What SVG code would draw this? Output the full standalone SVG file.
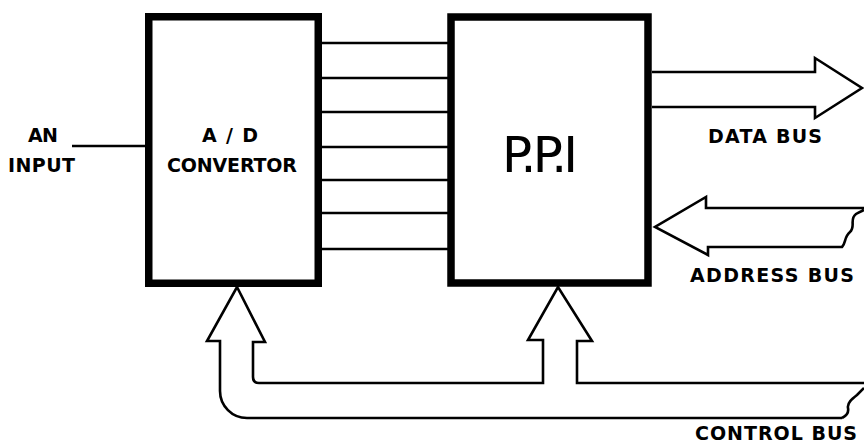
<svg xmlns="http://www.w3.org/2000/svg" width="864" height="445" viewBox="0 0 864 445">
<style>
.box{fill:none;stroke:#000;stroke-width:7.5;stroke-linejoin:miter}
.wire{fill:none;stroke:#000;stroke-width:2.5}
.bus{fill:none;stroke:#000;stroke-width:2.6;stroke-linejoin:miter}
.lbl{font-family:"DejaVu Sans","Liberation Sans",sans-serif;font-weight:bold;font-size:19px;fill:#000}
.big{font-family:"DejaVu Sans","Liberation Sans",sans-serif;font-size:50px;fill:#000}
</style>
<rect width="864" height="445" fill="#fff"/>
<g id="an-input">
<text class="lbl" x="28" y="142" textLength="30">AN</text>
<text class="lbl" x="8" y="172" textLength="67">INPUT</text>
</g>
<g id="ad-converter">
<rect class="box" x="148.75" y="16.75" width="169.5" height="266.5"/>
<text class="lbl" x="202" y="142" textLength="56">A / D</text>
<text class="lbl" x="167" y="172" textLength="130">CONVERTOR</text>
</g>
<g id="ppi">
<rect class="box" x="451" y="17" width="197" height="266"/>
<text class="big" x="502" y="172" textLength="76" lengthAdjust="spacing">P.P.I</text>
</g>
<g id="data-bus-label"><text class="lbl" x="708" y="143" textLength="114">DATA BUS</text></g>
<g id="address-bus-label"><text class="lbl" x="690" y="282" textLength="164">ADDRESS BUS</text></g>
<g id="control-bus-label"><text class="lbl" x="695" y="440" textLength="162">CONTROL BUS</text></g>
<g id="connectors">
<line class="wire" x1="72" y1="146" x2="146" y2="146"/>
<line class="wire" x1="322" y1="43" x2="448" y2="43"/>
<line class="wire" x1="322" y1="78" x2="448" y2="78"/>
<line class="wire" x1="322" y1="112" x2="448" y2="112"/>
<line class="wire" x1="322" y1="147" x2="448" y2="147"/>
<line class="wire" x1="322" y1="180" x2="448" y2="180"/>
<line class="wire" x1="322" y1="213" x2="448" y2="213"/>
<line class="wire" x1="322" y1="249" x2="448" y2="249"/>
<path id="data-bus" class="bus" d="M652,72 H815 V58 L862,88 L815,118 V107 H652"/>
<path id="address-bus" class="bus" d="M864,208 H706 V197 L655,227 L708,255 V247 H842 C846,243 844,237 850,232 C856,227 849,219 856,214 C859,212 862,211 864,210"/>
<path id="control-bus-outer" class="bus" d="M842,418 H247 A27,27 0 0 1 220,391 V341 H207 L237,287 L265,342 H253 V377 Q253,383 259,383 H543 V340 H528 L558,287 L592,341 H577 V383 H864"/>
<path id="control-bus-break" class="bus" d="M842,418 C846,416 849,413 848,408 C847,403 852,399 857,395 C860,392 862,390 864,388"/>
</g>
</svg>
